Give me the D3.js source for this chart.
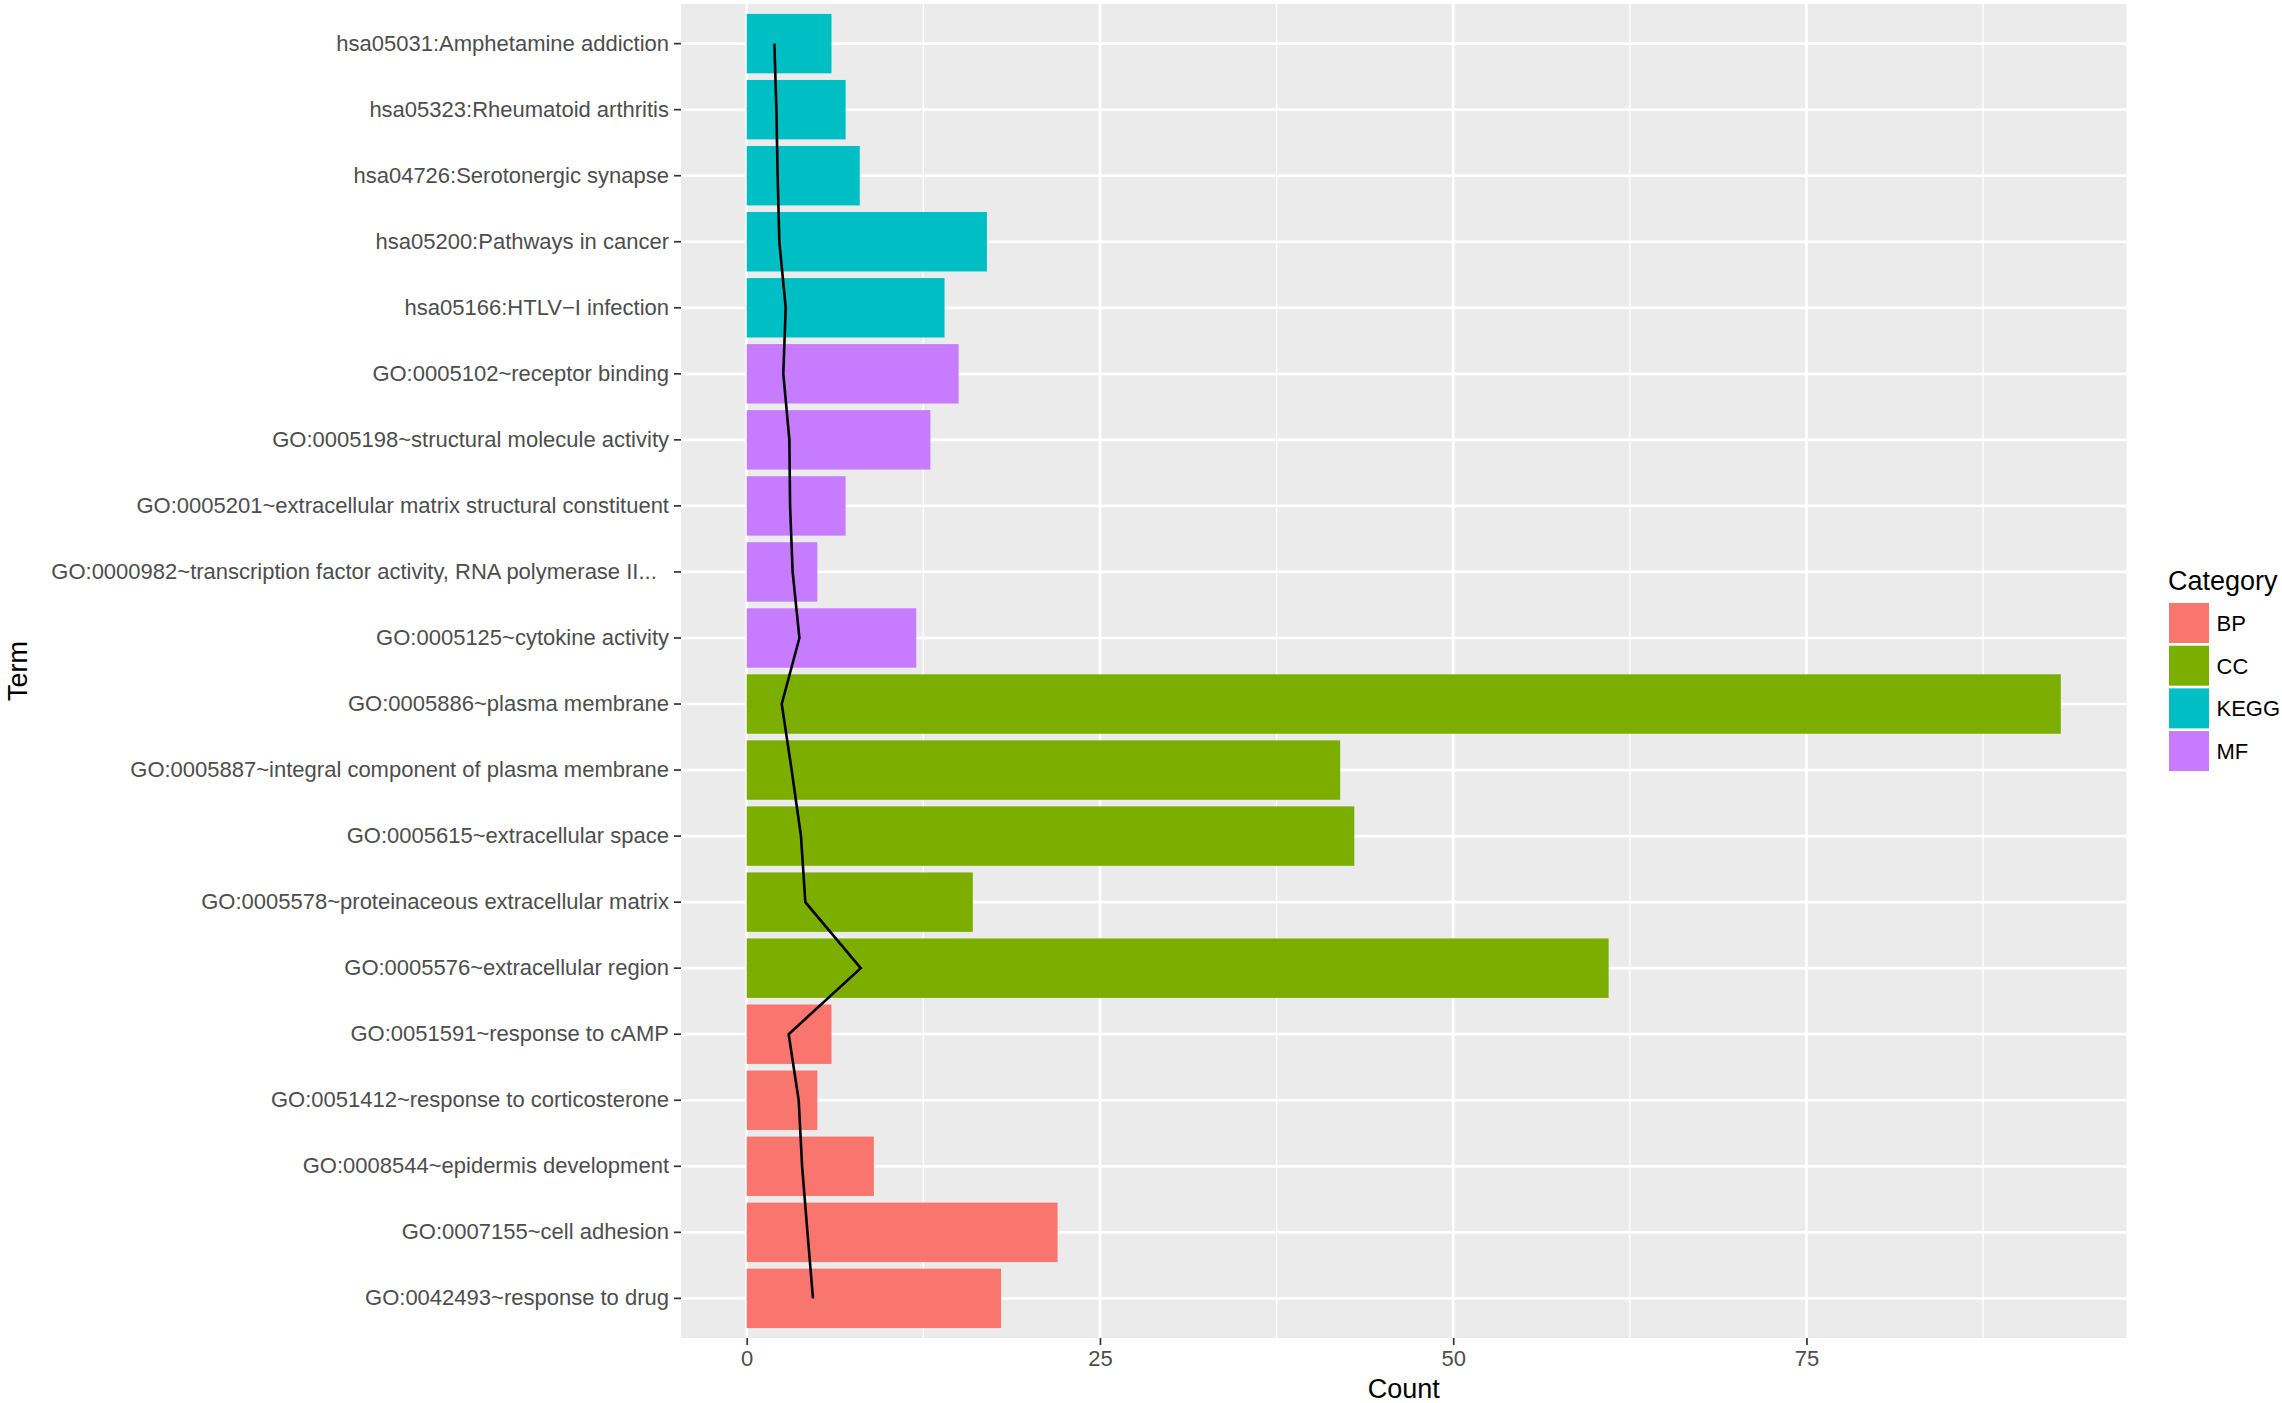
<!DOCTYPE html>
<html>
<head>
<meta charset="utf-8">
<script src="https://cdn.jsdelivr.net/npm/d3@7"></script>
<style>
  body { margin: 0; background: #fff; }
  svg { display: block; font-family: "Liberation Sans", Arial, Helvetica, sans-serif; }
</style>
</head>
<body>
<div id="chart"></div>
<script>
// terms, top to bottom as drawn
var terms = [
    "hsa05031:Amphetamine addiction",
    "hsa05323:Rheumatoid arthritis",
    "hsa04726:Serotonergic synapse",
    "hsa05200:Pathways in cancer",
    "hsa05166:HTLV\u2212I infection",
    "GO:0005102~receptor binding",
    "GO:0005198~structural molecule activity",
    "GO:0005201~extracellular matrix structural constituent",
    "GO:0000982~transcription factor activity, RNA polymerase II...\u00a0\u00a0",
    "GO:0005125~cytokine activity",
    "GO:0005886~plasma membrane",
    "GO:0005887~integral component of plasma membrane",
    "GO:0005615~extracellular space",
    "GO:0005578~proteinaceous extracellular matrix",
    "GO:0005576~extracellular region",
    "GO:0051591~response to cAMP",
    "GO:0051412~response to corticosterone",
    "GO:0008544~epidermis development",
    "GO:0007155~cell adhesion",
    "GO:0042493~response to drug"
];
var termCategory = ["KEGG", "KEGG", "KEGG", "KEGG", "KEGG",
    "MF", "MF", "MF", "MF", "MF",
    "CC", "CC", "CC", "CC", "CC",
    "BP", "BP", "BP", "BP", "BP"];
var counts = [6, 7, 8, 17, 14, 15, 13, 7, 5, 12, 93, 42, 43, 16, 61, 6, 5, 9, 22, 18];
// black line drawn over the bars
var lineValues = [1.96, 2.1, 2.19, 2.31, 2.76, 2.59, 3.02, 3.07, 3.25, 3.73,
    2.48, 3.18, 3.84, 4.15, 8.07, 2.97, 3.68, 3.92, 4.3, 4.69];

var categories = ["BP", "CC", "KEGG", "MF"];
var categoryColors = ["#F8766D", "#7CAE00", "#00BFC4", "#C77CFF"];
var xTicks = [0, 25, 50, 75];
var xMinor = [12.5, 37.5, 62.5, 87.5];

var width = 2282, height = 1403;
var panel = {left: 681, right: 2126.5, top: 4, bottom: 1338};

var svg = d3.select('#chart').append('svg')
    .attr('width', width)
    .attr('height', height);

// ggplot style expansion: 5% on each side
var maxCount = d3.max(counts);
var xScale = d3.scaleLinear()
    .domain([-0.05 * maxCount, maxCount * 1.05])
    .range([panel.left, panel.right]);

var yScale = d3.scaleBand()
    .domain(terms)
    .range([panel.top, panel.bottom])
    .paddingInner(0.1)
    .paddingOuter(0.15);

var color = d3.scaleOrdinal().domain(categories).range(categoryColors);

var rows = terms.map(function(t, i) {
    return {term: t, cat: termCategory[i], count: counts[i], val: lineValues[i]};
});

// panel background
svg.append('rect')
    .attr('x', panel.left)
    .attr('y', panel.top)
    .attr('width', panel.right - panel.left)
    .attr('height', panel.bottom - panel.top)
    .attr('fill', '#EBEBEB');

// grid lines
svg.append('g').selectAll('line')
    .data(xMinor)
    .join('line')
    .attr('x1', d => xScale(d)).attr('x2', d => xScale(d))
    .attr('y1', panel.top).attr('y2', panel.bottom)
    .attr('stroke', '#fff').attr('stroke-width', 1.35);

svg.append('g').selectAll('line')
    .data(xTicks)
    .join('line')
    .attr('x1', d => xScale(d)).attr('x2', d => xScale(d))
    .attr('y1', panel.top).attr('y2', panel.bottom)
    .attr('stroke', '#fff').attr('stroke-width', 2.7);

svg.append('g').selectAll('line')
    .data(terms)
    .join('line')
    .attr('x1', panel.left).attr('x2', panel.right)
    .attr('y1', d => yScale(d) + yScale.bandwidth() / 2)
    .attr('y2', d => yScale(d) + yScale.bandwidth() / 2)
    .attr('stroke', '#fff').attr('stroke-width', 2.7);

// bars
svg.append('g').selectAll('rect')
    .data(rows)
    .join('rect')
    .attr('x', xScale(0))
    .attr('y', d => yScale(d.term))
    .attr('width', d => xScale(d.count) - xScale(0))
    .attr('height', yScale.bandwidth())
    .attr('fill', d => color(d.cat));

// line
var line = d3.line()
    .x(d => xScale(d.val))
    .y(d => yScale(d.term) + yScale.bandwidth() / 2);

svg.append('path')
    .datum(rows)
    .attr('d', line)
    .attr('fill', 'none')
    .attr('stroke', '#000')
    .attr('stroke-width', 2.6);

// axes
var xAxis = svg.append('g')
    .attr('transform', 'translate(0,' + panel.bottom + ')')
    .call(d3.axisBottom(xScale).tickValues(xTicks).tickSize(7).tickPadding(5).tickFormat(d3.format('d')));

var yAxis = svg.append('g')
    .attr('transform', 'translate(' + panel.left + ',0)')
    .call(d3.axisLeft(yScale).tickSize(7).tickPadding(5));

[xAxis, yAxis].forEach(function(ax) {
    ax.select('.domain').remove();
    ax.selectAll('.tick line').attr('stroke', '#333333').attr('stroke-width', 1.7);
    ax.selectAll('.tick text')
        .attr('fill', '#4D4D4D')
        .attr('font-size', 22)
        .style('white-space', 'pre');
});

// axis titles
svg.append('text')
    .attr('x', (panel.left + panel.right) / 2)
    .attr('y', 1398)
    .attr('text-anchor', 'middle')
    .attr('font-size', 27)
    .text('Count');

svg.append('text')
    .attr('transform', 'translate(27,' + (panel.top + panel.bottom) / 2 + ') rotate(-90)')
    .attr('text-anchor', 'middle')
    .attr('font-size', 27)
    .text('Term');

// legend
var legend = svg.append('g').attr('transform', 'translate(2169,0)');
legend.append('text')
    .attr('x', -1)
    .attr('y', 590)
    .attr('font-size', 27)
    .text('Category');

var keys = legend.selectAll('g.key')
    .data(categories)
    .join('g')
    .attr('class', 'key')
    .attr('transform', (d, i) => 'translate(0,' + (602 + i * 42.7) + ')');

keys.append('rect')
    .attr('x', 0).attr('y', 1)
    .attr('width', 40).attr('height', 40)
    .attr('fill', d => color(d));

keys.append('text')
    .attr('x', 47.5)
    .attr('y', 21)
    .attr('dy', '0.36em')
    .attr('font-size', 22)
    .text(d => d);
</script>
</body>
</html>
